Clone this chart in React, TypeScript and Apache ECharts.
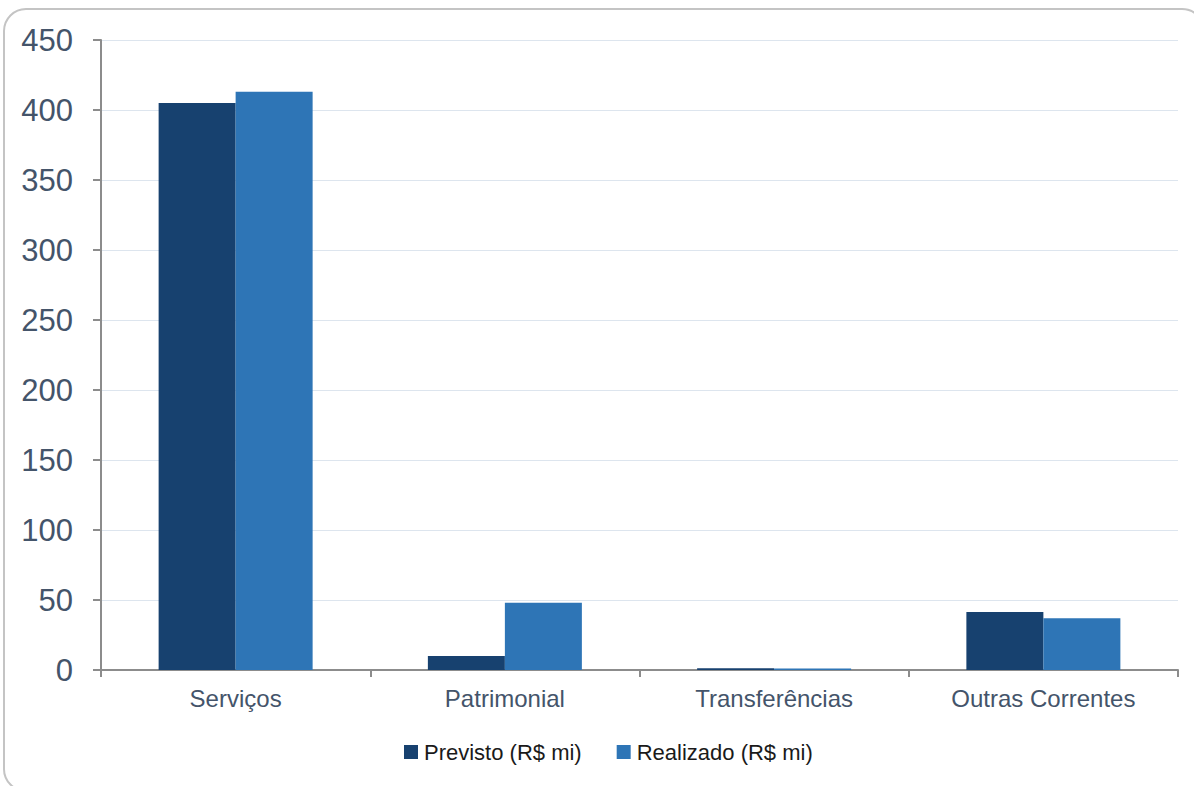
import React, { useEffect, useRef } from "react";
import * as echarts from "echarts";

const categories = ["Serviços", "Patrimonial", "Transferências", "Outras Correntes"];
const previsto = [405, 10, 1.2, 41.5];
const realizado = [413, 48, 1.0, 37];
const seriesNames = ["Previsto (R$ mi)", "Realizado (R$ mi)"];

export default function App() {
  const ref = useRef<HTMLDivElement>(null);
  useEffect(() => {
    document.body.style.margin = "0";
    const chart = echarts.init(ref.current!, null, { renderer: "svg" });
    chart.setOption({
      animation: false,
      backgroundColor: "#ffffff",
      graphic: [
        {
          type: "rect",
          shape: { x: 4, y: 9, width: 1200, height: 782, r: 22 },
          style: { fill: "none", stroke: "#c4c4c4", lineWidth: 2 },
          z: -10,
          silent: true,
        },
      ],
      grid: { left: 101, right: 16, top: 40, bottom: 116, containLabel: false },
      legend: {
        top: 736,
        left: 399,
        itemWidth: 14,
        itemHeight: 14,
        itemGap: 35,
        icon: "rect",
        textStyle: { fontFamily: "Liberation Sans, Arial", fontSize: 22, color: "#1a1a1a", padding: [0, 0, 0, 1] },
        data: seriesNames,
      },
      xAxis: {
        type: "category",
        data: categories,
        axisLine: { lineStyle: { color: "#8c8c8c", width: 2 } },
        axisTick: { show: true, alignWithLabel: false, length: 7, lineStyle: { color: "#8c8c8c", width: 2 } },
        axisLabel: { fontFamily: "Liberation Sans, Arial", fontSize: 24, color: "#44546a", margin: 16 },
      },
      yAxis: {
        type: "value",
        min: 0,
        max: 450,
        interval: 50,
        axisLine: { show: true, lineStyle: { color: "#8c8c8c", width: 2 } },
        axisTick: { show: true, length: 8, lineStyle: { color: "#8c8c8c", width: 2 } },
        axisLabel: { fontFamily: "Liberation Sans, Arial", fontSize: 31, color: "#44546a", margin: 28 },
        splitLine: { lineStyle: { color: "#dde5ee", width: 1 } },
      },
      series: [
        {
          name: seriesNames[0],
          type: "bar",
          data: previsto,
          barWidth: 77,
          barGap: "0%",
          itemStyle: { color: "#17416f" },
        },
        {
          name: seriesNames[1],
          type: "bar",
          data: realizado,
          barWidth: 77,
          itemStyle: { color: "#2e75b6" },
        },
      ],
    });
    return () => chart.dispose();
  }, []);
  return <div ref={ref} style={{ width: 1194, height: 786 }} />;
}
